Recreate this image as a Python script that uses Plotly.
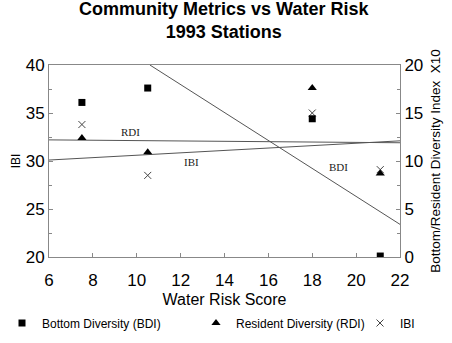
import plotly.graph_objects as go

# Data
x_score = [7.5, 10.5, 18.0, 21.1]
bdi = [16.1, 17.6, 14.4, 0.1]      # right axis (index x10)
rdi = [12.4, 10.9, 17.6, 8.7]      # right axis (index x10)
ibi = [33.8, 28.5, 35.0, 29.1]     # left axis

# Trend lines (endpoints)
bdi_trend_x = [10.6, 22.0]
bdi_trend_y = [20.0, 3.4]          # right axis
rdi_trend_x = [6.0, 22.0]
rdi_trend_y = [12.2, 11.9]         # right axis
ibi_trend_x = [6.0, 22.0]
ibi_trend_y = [30.1, 32.1]         # left axis

line_col = "#555555"
axis_col = "#888888"
font_fam = "Liberation Sans, Arial, sans-serif"
serif = "Liberation Serif, Times New Roman, serif"

fig = go.Figure()

# trend lines
fig.add_trace(go.Scatter(x=bdi_trend_x, y=bdi_trend_y, yaxis="y2", mode="lines",
                         line=dict(color=line_col, width=1), showlegend=False, hoverinfo="skip"))
fig.add_trace(go.Scatter(x=rdi_trend_x, y=rdi_trend_y, yaxis="y2", mode="lines",
                         line=dict(color=line_col, width=1), showlegend=False, hoverinfo="skip"))
fig.add_trace(go.Scatter(x=ibi_trend_x, y=ibi_trend_y, mode="lines",
                         line=dict(color=line_col, width=1), showlegend=False, hoverinfo="skip"))

# markers
fig.add_trace(go.Scatter(x=x_score, y=bdi, yaxis="y2", mode="markers", name="Bottom Diversity (BDI)",
                         legend="legend",
                         marker=dict(symbol="square", size=7, color="black")))
fig.add_trace(go.Scatter(x=x_score, y=rdi, yaxis="y2", mode="markers", name="Resident Diversity (RDI)",
                         legend="legend2",
                         marker=dict(symbol="triangle-up", size=8, color="black")))
fig.add_trace(go.Scatter(x=x_score, y=ibi, mode="markers", name="IBI",
                         legend="legend3",
                         marker=dict(symbol="x-thin", size=7, color="#444444",
                                     line=dict(color="#444444", width=1))))

# trend labels
fig.add_annotation(x=9.7, y=13.0, yref="y2", text="RDI", showarrow=False,
                   font=dict(family=serif, size=11, color="#222"))
fig.add_annotation(x=12.5, y=29.9, yref="y", text="IBI", showarrow=False,
                   font=dict(family=serif, size=11, color="#222"))
fig.add_annotation(x=19.2, y=9.4, yref="y2", text="BDI", showarrow=False,
                   font=dict(family=serif, size=11, color="#222"))

W, H = 452, 343


def leg(xpix):
    return dict(orientation="h", xref="container", x=xpix / W, xanchor="left",
                yref="container", y=1 - 323 / H, yanchor="middle",
                font=dict(size=12), itemwidth=30, bgcolor="rgba(0,0,0,0)",
                borderwidth=0)


fig.update_layout(
    width=W, height=H,
    margin=dict(l=49, r=52, t=65, b=86, autoexpand=False),
    paper_bgcolor="white", plot_bgcolor="white",
    font=dict(family=font_fam, color="black"),
    title=dict(text="<b>Community Metrics vs Water Risk<br>1993 Stations</b>",
               x=0.495, xanchor="center", y=0.957, yanchor="middle", yref="container",
               font=dict(size=18, family=font_fam, color="black")),
    xaxis=dict(range=[6, 22], tickvals=[6, 8, 10, 12, 14, 16, 18, 20, 22],
               ticks="inside", ticklen=4, tickcolor=axis_col, ticklabelstandoff=8,
               showline=True, linecolor=axis_col, mirror=True, showgrid=False, zeroline=False,
               tickfont=dict(size=17),
               title=dict(text="Water Risk Score", font=dict(size=16), standoff=5)),
    yaxis=dict(range=[20, 40], tickvals=[20, 25, 30, 35, 40],
               ticks="inside", ticklen=4, tickcolor=axis_col,
               minor=dict(dtick=2.5, ticks="inside", ticklen=3, tickcolor=axis_col),
               showline=True, linecolor=axis_col, showgrid=False, zeroline=False,
               tickfont=dict(size=17),
               title=dict(text="IBI", font=dict(size=12), standoff=2)),
    yaxis2=dict(range=[0, 20], tickvals=[0, 5, 10, 15, 20], overlaying="y", side="right",
                ticks="inside", ticklen=4, tickcolor=axis_col,
                minor=dict(dtick=2.5, ticks="inside", ticklen=3, tickcolor=axis_col),
                showline=True, linecolor=axis_col, showgrid=False, zeroline=False,
                tickfont=dict(size=17),
                title=dict(text="Bottom/Resident Diversity Index  X10", font=dict(size=13.5), standoff=8)),
    legend=leg(2),
    legend2=leg(196),
    legend3=leg(360),
    showlegend=True,
)

fig.write_html("out.html")
